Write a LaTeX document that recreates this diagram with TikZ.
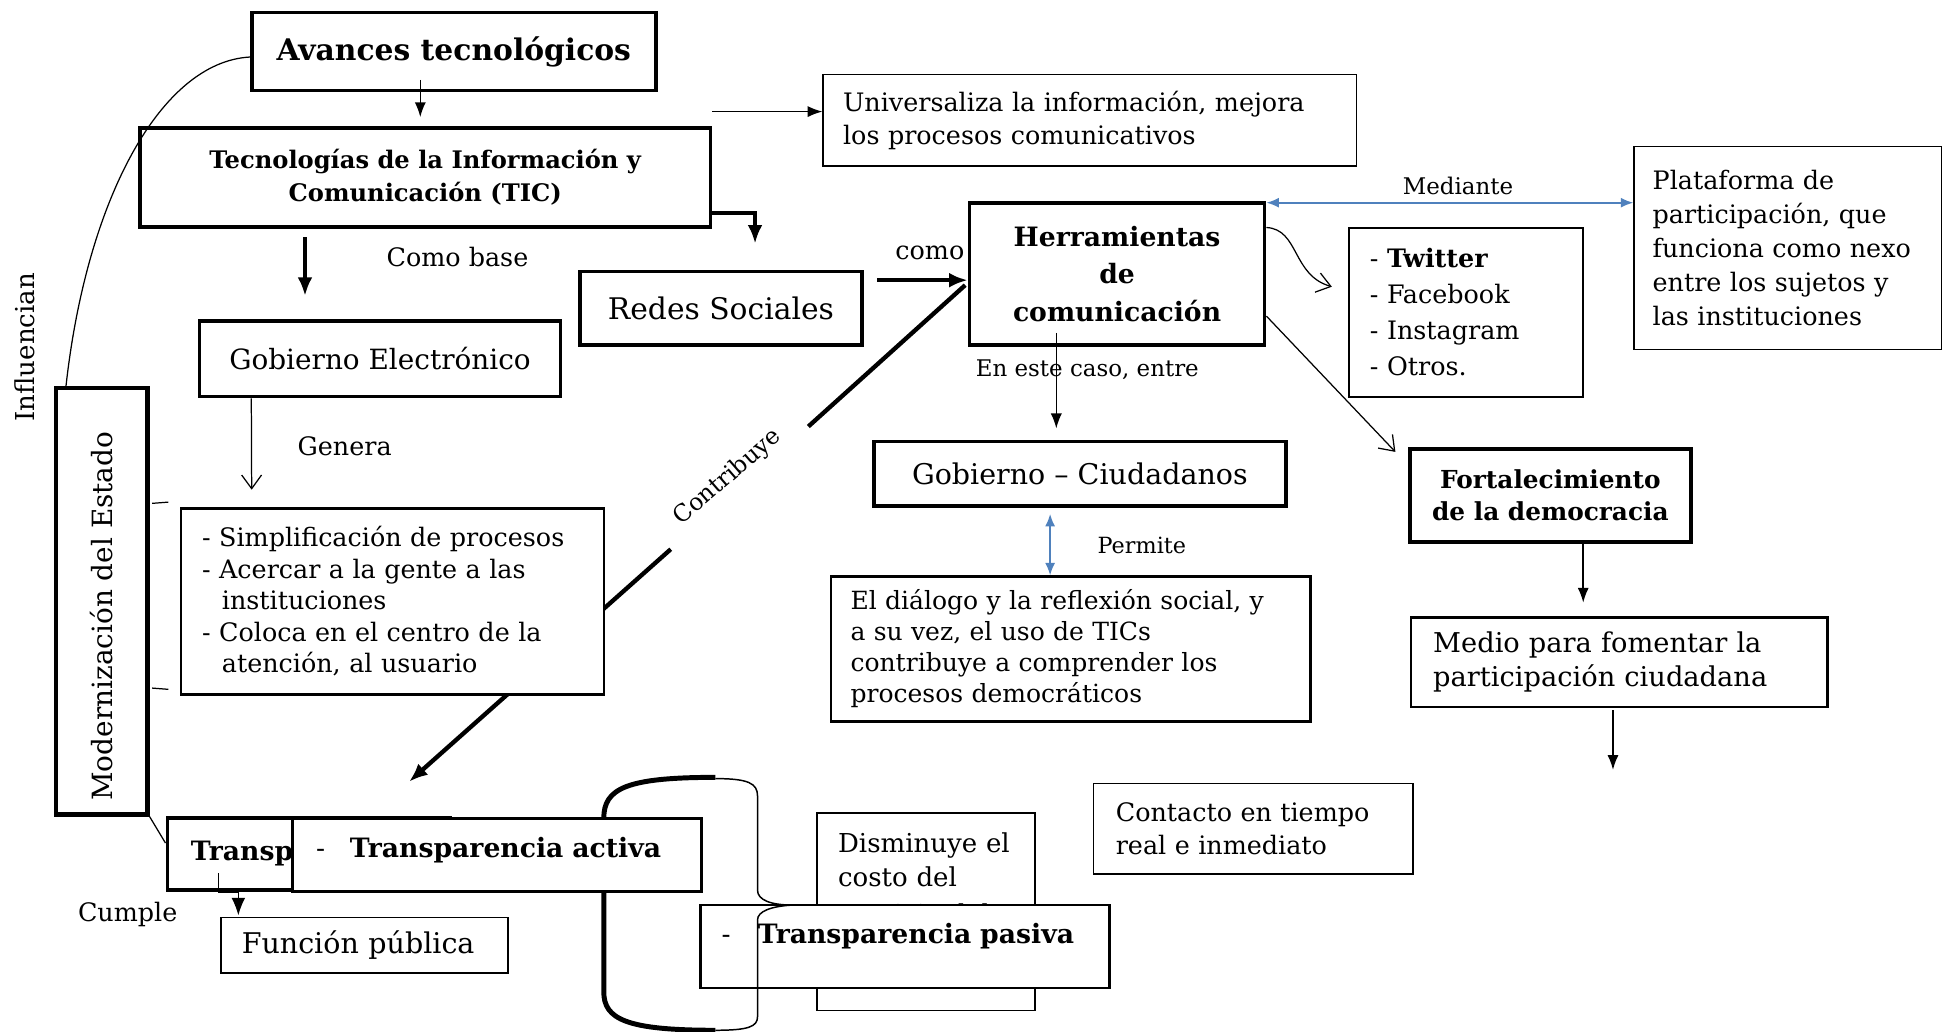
\documentclass[tikz,border=0pt]{standalone}
\usepackage{fontspec}
\setmainfont{DejaVu Serif}
\usetikzlibrary{arrows.meta,positioning,calc}
\definecolor{enlace}{RGB}{79,129,189}
\newcommand{\fz}[2]{\fontsize{#1}{#2}\selectfont}

\begin{document}
\begin{tikzpicture}[x=1pt,y=-1pt,>=Latex,
 hb/.style={draw,line width=3pt,fill=white,align=center,inner sep=0pt},
 lb/.style={draw,line width=1.3pt,fill=white,align=left,inner sep=0pt},
 lab/.style={inner sep=0pt,font=\fz{19}{23}},
 thinarr/.style={-{Latex[length=12pt,width=9pt]},line width=1.2pt},
 heavyarr/.style={-{Latex[length=15pt,width=12pt]},line width=3pt},
 barb/.style={-{Straight Barb[length=11pt,width=16pt]},line width=1pt},
 bluearr/.style={{Latex[length=10pt,width=8pt]}-{Latex[length=10pt,width=8pt]},draw=enlace,line width=1.4pt}]
\useasboundingbox (0,0) rectangle (1568,832);

% long lines that run under the boxes
\node[hb,minimum width=238pt,minimum height=114pt,font=\fz{21.5}{30}\bfseries] (herr) at (901,221) {Herramientas\\de\\comunicación};
\node[hb,minimum width=228pt,text width=190pt,inner xsep=19pt,text height=34pt,text depth=24pt,align=left,font=\fz{21.5}{26}\bfseries] (transp) at (249,689) {Transparencia};
\coordinate (cbA) at (652,344);
\coordinate (cbB) at (541,443);
\draw[line width=3.5pt] ([xshift=-2pt,yshift=-9pt]herr.west) -- (cbA);
\draw[heavyarr,line width=3.5pt] (cbB) -- ([xshift=81pt,yshift=28pt]transp.north);
\node[lab,rotate=41] (lcontr) at (587,385) {Contribuye};

% left column
\node[hb,minimum width=326pt,minimum height=63pt,font=\fz{24}{28}\bfseries] (avan) at (366,41.5) {Avances tecnológicos};
\node[hb,minimum width=460pt,minimum height=80pt,font=\fz{19.5}{27}\bfseries] (tic) at (343,143) {Tecnologías de la Información y\\Comunicación (TIC)};
\node[hb,line width=2.6pt,minimum width=291pt,minimum height=61pt,font=\fz{22.5}{28}] (gobe) at (306.5,289.5) {Gobierno Electrónico};
\node[lb,line width=2pt,minimum width=341pt,minimum height=150pt,text width=307pt,inner xsep=17pt,font=\fz{20.5}{25.5}] (simp) at (316.5,485)
 {- Simplificación de procesos\\- Acercar a la gente a las\\\hspace*{16pt}instituciones\\- Coloca en el centro de la\\\hspace*{16pt}atención, al usuario};
\node[hb,line width=3.5pt,minimum width=74pt,minimum height=344pt] (mod) at (82,485) {};
\node[rotate=90,inner sep=0pt,font=\fz{22.5}{26}] (modtxt) at (82,497) {Modernización del Estado};
\node[rotate=90,inner sep=0pt,font=\fz{21}{24}] (linfl) at (20,280) {Influencian};

% middle and right
\node[lb,line width=1.2pt,minimum width=430pt,minimum height=74pt,text width=398pt,inner xsep=16pt,font=\fz{20.5}{27}] (univ) at (879,97) {Universaliza la información, mejora\\los procesos comunicativos};
\node[hb,minimum width=227pt,minimum height=59pt,font=\fz{24}{28}] (redes) at (581.5,248.5) {Redes Sociales};
\node[lb,line width=1.2pt,minimum width=248pt,minimum height=164pt,text width=218pt,inner xsep=15pt,font=\fz{20.5}{27.5}] (plat) at (1442,200) {Plataforma de\\participación, que\\funciona como nexo\\entre los sujetos y\\las instituciones};
\node[lb,line width=1.5pt,minimum width=189pt,minimum height=136pt,text width=155pt,inner xsep=17pt,font=\fz{20.5}{29}] (apps) at (1182.5,252) {- \textbf{Twitter}\\- Facebook\\- Instagram\\- Otros.};
\node[hb,minimum width=332pt,minimum height=52pt,font=\fz{23}{28}] (gobc) at (871,382) {Gobierno – Ciudadanos};
\node[hb,minimum width=227pt,minimum height=75pt,font=\fz{20}{26}\bfseries] (fort) at (1250.5,399.5) {Fortalecimiento\\de la democracia};
\node[lb,line width=1.8pt,minimum width=387pt,minimum height=117pt,text width=355pt,inner xsep=16pt,font=\fz{20.2}{25}] (dial) at (863.5,523.5) {El diálogo y la reflexión social, y\\a su vez, el uso de TICs\\contribuye a comprender los\\procesos democráticos};
\node[lb,line width=1.8pt,minimum width=336pt,minimum height=72pt,text width=300pt,inner xsep=18pt,font=\fz{22}{27}] (medio) at (1306,534) {Medio para fomentar la\\participación ciudadana};
\node[lb,line width=1.5pt,minimum width=258pt,minimum height=73pt,text width=222pt,inner xsep=18pt,font=\fz{20.5}{27}] (cont) at (1011,668.5) {Contacto en tiempo\\real e inmediato};
\coordinate (medend) at (1301,621);

% bottom: transparencia
\draw[line width=4pt] (577,627) .. controls (505,627) and (487,636) .. (487,660) -- (487,800) .. controls (487,822) and (505,831) .. (577,831);
\node[lb,line width=2pt,minimum width=330pt,text width=292pt,inner xsep=19pt,text height=32pt,text depth=27pt,font=\fz{21.5}{26}] (activa) at (401,689.5) {-\hspace{20pt}\textbf{Transparencia activa}};
\node[lb,line width=1.5pt,minimum width=232pt,minimum height=45pt,text width=198pt,inner xsep=17pt,font=\fz{23}{28}] (func) at (294,762.5) {Función pública};
\node[lb,line width=1.5pt,minimum width=176pt,minimum height=159pt,text width=142pt,inner xsep=17pt,font=\fz{21}{27}] (dism) at (747,735.5) {Disminuye el\\costo del\\[3pt]servicio del\\\mbox{}\\\mbox{}};
\node[lb,line width=2pt,minimum width=330pt,text width=296pt,inner xsep=17pt,text height=31pt,text depth=36pt,font=\fz{21.5}{26}] (pasiva) at (730,763.5) {-\hspace{22pt}\textbf{Transparencia pasiva}};
\draw[line width=1.2pt] (577,628) .. controls (604,628) and (611,632) .. (611,642) -- (611,718) .. controls (611,726) and (622,730) .. (639,730) .. controls (622,731) and (611,735) .. (611,742) -- (611,820) .. controls (611,828) and (604,831) .. (577,831);

% connectors
\draw[thinarr] ([xshift=-27pt,yshift=10pt]avan.south) -- ([xshift=-4pt,yshift=7pt]tic.north);
\coordinate (uin) at ([yshift=7pt]univ.west);
\draw[thinarr] (tic.east |- uin) -- (uin);
\draw[heavyarr] ([yshift=-29pt]tic.east) -| ([xshift=27.5pt,yshift=21pt]redes.north);
\draw[heavyarr] ([xshift=-97pt,yshift=-7pt]tic.south) -- ([xshift=-60.5pt,yshift=19pt]gobe.north);
\node[lab,font=\fz{20.5}{24}] (lbase) at (369,207) {Como base};
\draw[barb] ([xshift=43pt]gobe.south west) -- ([xshift=58pt,yshift=14pt]simp.north west);
\node[lab,font=\fz{20.5}{24}] (lgen) at (278,360) {Genera};
\draw[heavyarr,line width=3.5pt] ([xshift=11pt,yshift=22.5pt]redes.east) -- ([yshift=-5pt]herr.west);
\node[lab,font=\fz{20.5}{24}] (lcomo) at (750,204) {como};
\coordinate (pin) at ([yshift=-1pt]herr.north east -| plat.west);
\draw[bluearr] ([yshift=-1pt]herr.north east) -- (pin);
\node[lab,font=\fz{18.5}{22}] (lmed) at (1176,150) {Mediante};
\draw[barb] ([yshift=-21pt]herr.north east) .. controls (1048,185) and (1042,222) .. ([xshift=-13pt,yshift=-48pt]apps.north west);
\draw[thinarr,line width=1pt] ([xshift=-49pt,yshift=11pt]herr.south) -- ([xshift=-19pt,yshift=9pt]gobc.north);
\node[lab,font=\fz{18.5}{22}] (lcaso) at (877,298) {En este caso, entre};
\draw[barb] ([yshift=-34pt]herr.east) -- ([xshift=-10pt,yshift=-4pt]fort.north west);
\draw[bluearr] ([xshift=-24pt,yshift=-5pt]gobc.south) -- ([xshift=-16.5pt]dial.north);
\node[lab,font=\fz{18}{22}] (lperm) at (921,440) {Permite};
\draw[thinarr,line width=1.3pt] ([xshift=26.5pt]fort.south) -- ([xshift=-29pt,yshift=11pt]medio.north);
\draw[thinarr,line width=1.3pt] ([xshift=-5pt,yshift=-2pt]medio.south) -- (medend);
\draw[line width=1pt] ([yshift=-4.5pt]avan.west) .. controls (130,50) and (70,160) .. ([xshift=10pt]mod.north west);
\draw[line width=1pt] ([xshift=2pt,yshift=79pt]mod.east) -- ([xshift=15pt,yshift=80pt]mod.east);
\draw[line width=1pt] ([xshift=2pt,yshift=-70pt]mod.east) -- ([xshift=15pt,yshift=-71pt]mod.east);
\draw[line width=1pt] (mod.south east) -- ([yshift=9pt]transp.west);
\coordinate (cmA) at ([xshift=43pt,yshift=15pt]transp.south west);
\coordinate (cmB) at ([xshift=15pt,yshift=1pt]func.north west);
\draw[-{Latex[length=14pt,width=11pt]},line width=1pt] (cmA) -- (cmA |- transp.south) -| (cmB);
\node[lab,font=\fz{20.5}{24}] (lcump) at (103,738) {Cumple};
\end{tikzpicture}
\end{document}
